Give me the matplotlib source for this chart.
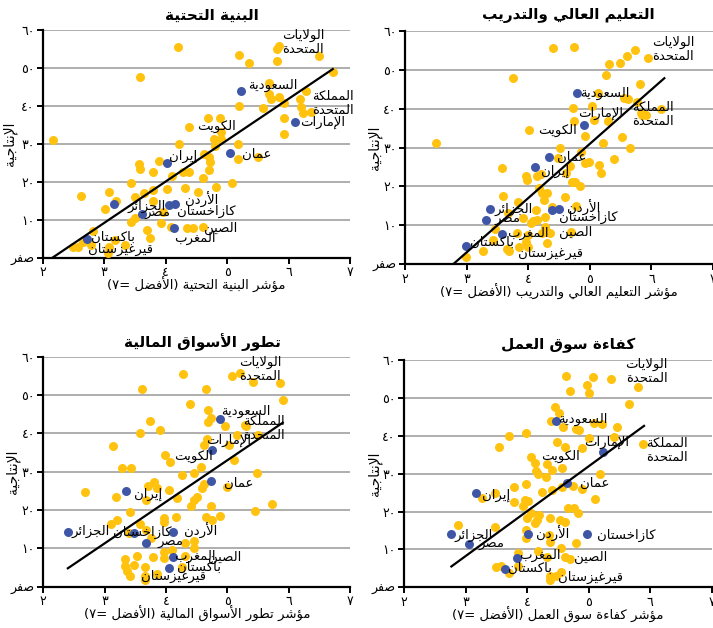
import numpy as np
import matplotlib
matplotlib.use('Agg')
import matplotlib.pyplot as plt

plt.rcParams['font.family'] = ['DejaVu Sans']

# --- petit "reshaper" arabe : formes contextuelles + ordre visuel ---
_BASE = {
    'ء': (0xFE80, 1), 'آ': (0xFE81, 2), 'أ': (0xFE83, 2), 'ؤ': (0xFE85, 2),
    'إ': (0xFE87, 2), 'ئ': (0xFE89, 4), 'ا': (0xFE8D, 2), 'ب': (0xFE8F, 4),
    'ة': (0xFE93, 2), 'ت': (0xFE95, 4), 'ث': (0xFE99, 4), 'ج': (0xFE9D, 4),
    'ح': (0xFEA1, 4), 'خ': (0xFEA5, 4), 'د': (0xFEA9, 2), 'ذ': (0xFEAB, 2),
    'ر': (0xFEAD, 2), 'ز': (0xFEAF, 2), 'س': (0xFEB1, 4), 'ش': (0xFEB5, 4),
    'ص': (0xFEB9, 4), 'ض': (0xFEBD, 4), 'ط': (0xFEC1, 4), 'ظ': (0xFEC5, 4),
    'ع': (0xFEC9, 4), 'غ': (0xFECD, 4), 'ف': (0xFED1, 4), 'ق': (0xFED5, 4),
    'ك': (0xFED9, 4), 'ل': (0xFEDD, 4), 'م': (0xFEE1, 4), 'ن': (0xFEE5, 4),
    'ه': (0xFEE9, 4), 'و': (0xFEED, 2), 'ى': (0xFEEF, 2), 'ي': (0xFEF1, 4),
}
_LAM_ALEF = {'آ': 0xFEF5, 'أ': 0xFEF7, 'إ': 0xFEF9, 'ا': 0xFEFB}
_DIGITS = '0123456789٠١٢٣٤٥٦٧٨٩'


def _shape(line):
    units = []
    i = 0
    while i < len(line):
        c = line[i]
        if c == 'ل' and i + 1 < len(line) and line[i + 1] in _LAM_ALEF:
            units.append(('LA', _LAM_ALEF[line[i + 1]], 2))
            i += 2
            continue
        if c in _BASE:
            units.append(('AR', _BASE[c][0], _BASE[c][1]))
        else:
            units.append(('X', c, 0))
        i += 1
    out = []
    for k, (kind, code, n) in enumerate(units):
        if kind == 'X':
            out.append(code)
            continue
        prev = units[k - 1] if k > 0 else None
        nxt = units[k + 1] if k + 1 < len(units) else None
        jp = prev is not None and prev[0] == 'AR' and prev[2] == 4 and n >= 2
        jn = n == 4 and nxt is not None and nxt[0] in ('AR', 'LA') and nxt[2] >= 2
        if jp and jn:
            f = 3
        elif jp:
            f = 1
        elif jn:
            f = 2
        else:
            f = 0
        out.append(chr(code + f))
    return ''.join(out)


def _visual(s):
    toks = []
    for c in s:
        if c in _DIGITS and toks and toks[-1][0] in _DIGITS:
            toks[-1] += c
        else:
            toks.append(c)
    toks = toks[::-1]
    swap = {'(': ')', ')': '('}
    return ''.join(swap.get(t, t) for t in toks)


def ar(s):
    return '\n'.join(_visual(_shape(l)) for l in s.split('\n'))


def ar_num(n):
    return ''.join('٠١٢٣٤٥٦٧٨٩'[int(d)] for d in str(n))


# --- données ---
titres = ['البنية التحتية', 'التعليم العالي والتدريب',
          'تطور الأسواق المالية', 'كفاءة سوق العمل']
xlabels = ['مؤشر البنية التحتية (الأفضل =٧)',
           'مؤشر التعليم العالي والتدريب (الأفضل =٧)',
           'مؤشر تطور الأسواق المالية (الأفضل =٧)',
           'مؤشر كفاءة سوق العمل (الأفضل =٧)']
ylabel = 'الإنتاجية'

# pays mis en évidence (points bleus) : même productivité dans les 4 panneaux
pays_hl = ['السعودية', 'الإمارات', 'عمان', 'إيران', 'كازاخستان',
           'الأردن', 'الجزائر', 'مصر', 'المغرب', 'باكستان']
prod_hl = [43.9, 35.8, 27.6, 24.9, 14.0, 14.2, 14.2, 11.4, 7.8, 4.8]
x_hl_infra = [5.23, 6.11, 5.04, 4.03, 4.05, 4.16, 3.16, 3.61, 4.14, 2.72]
x_hl_educ = [4.80, 4.90, 4.34, 4.11, 4.38, 4.50, 3.38, 3.32, 3.58, 2.99]
x_hl_fin = [4.88, 4.74, 4.73, 3.35, 3.48, 4.11, 2.40, 3.67, 4.12, 4.04]
x_hl_trav = [4.47, 5.23, 4.65, 3.17, 4.97, 4.01, 2.77, 3.05, 3.83, 3.64]

# autres pays (points jaunes)
x_infra = [2.16, 2.63, 2.50, 2.58, 2.65, 2.82, 2.78, 3.01, 3.08, 3.20, 3.08, 3.18,
           3.34, 3.43, 3.50, 3.56, 3.58, 3.58, 3.43, 3.50, 3.64, 3.70, 3.75, 3.79,
           3.79, 3.80, 3.89, 3.93, 3.95, 4.03, 4.08, 4.11, 4.20, 4.22, 4.28, 4.32,
           4.34, 4.38, 4.38, 4.45, 4.52, 4.60, 4.61, 4.63, 4.69, 4.71, 4.71, 4.73,
           4.79, 4.82, 4.88, 4.90, 4.90, 4.81, 5.08, 5.18, 5.18, 5.19, 5.19, 5.35,
           5.50, 5.58, 5.68, 5.69, 5.71, 5.81, 5.81, 5.85, 5.84, 5.93, 5.92, 5.93,
           6.28, 6.18, 6.21, 6.23, 6.36, 6.50, 6.72, 3.06]
y_infra = [31.0, 16.3, 2.9, 2.7, 4.0, 7.0, 3.3, 12.7, 17.4, 14.8, 2.7, 4.7,
           3.3, 19.6, 16.1, 24.6, 23.4, 47.7, 9.5, 10.4, 17.0, 7.3, 5.3, 22.7,
           17.8, 14.8, 25.6, 9.2, 12.0, 18.2, 8.2, 21.4, 55.4, 29.9, 22.7, 18.3,
           7.7, 34.4, 22.5, 7.9, 17.4, 8.2, 20.9, 27.3, 36.7, 26.5, 23.1, 25.1,
           31.3, 18.5, 36.9, 31.2, 33.0, 29.3, 19.8, 29.9, 25.9, 40.0, 53.4, 51.4,
           26.5, 39.5, 46.1, 43.1, 41.7, 51.8, 55.0, 55.9, 42.4, 40.7, 36.9, 32.6,
           44.0, 41.7, 39.6, 38.0, 38.4, 53.2, 48.8, 1.3]

x_educ = [2.50, 2.99, 3.26, 3.46, 3.43, 3.57, 3.59, 3.65, 3.69, 3.68, 3.75, 3.84,
          3.82, 3.85, 3.92, 3.96, 3.97, 3.98, 4.00, 4.00, 4.01, 4.04, 4.08, 4.12,
          4.14, 4.15, 4.21, 4.18, 4.22, 4.23, 4.26, 4.27, 4.28, 4.30, 4.31, 4.31,
          4.35, 4.38, 4.40, 4.48, 4.51, 4.59, 4.61, 4.68, 4.70, 4.71, 4.73, 4.74,
          4.74, 4.76, 4.78, 4.84, 4.86, 4.92, 4.92, 4.99, 5.03, 5.07, 5.14, 5.15,
          5.18, 5.21, 5.27, 5.29, 5.31, 5.39, 5.49, 5.53, 5.56, 5.61, 5.62, 5.66,
          5.73, 5.77, 5.81, 5.83, 5.85, 5.94, 6.15, 5.92]
y_educ = [31.1, 1.8, 3.3, 9.2, 6.3, 24.7, 17.6, 3.9, 3.3, 13.1, 47.8, 16.1,
          8.0, 4.5, 11.8, 5.8, 22.8, 21.7, 7.5, 4.4, 34.5, 10.5, 11.0, 14.0,
          11.4, 22.7, 23.2, 19.5, 8.0, 18.2, 16.5, 9.7, 12.2, 18.2, 5.6, 8.4,
          8.1, 14.8, 55.5, 27.4, 30.0, 17.4, 23.5, 25.3, 8.4, 21.2, 40.1, 36.8,
          55.9, 21.2, 15.0, 20.2, 28.9, 25.9, 33.0, 26.4, 40.7, 37.1, 44.1, 25.5,
          23.4, 31.1, 48.6, 36.9, 51.4, 27.0, 51.8, 32.8, 42.6, 53.5, 42.4, 30.0,
          55.1, 41.8, 46.2, 38.8, 38.4, 53.1, 39.8, 38.4]

x_fin = [2.68, 3.13, 3.18, 3.11, 3.20, 3.29, 3.43, 3.41, 3.33, 3.33, 3.36, 3.42,
         3.39, 3.48, 3.52, 3.58, 3.58, 3.60, 3.65, 3.67, 3.65, 3.66, 3.67, 3.71,
         3.74, 3.75, 3.79, 3.80, 3.85, 3.85, 3.90, 3.96, 3.96, 3.96, 3.97, 3.99,
         4.04, 4.07, 4.10, 4.16, 4.17, 4.26, 4.27, 4.30, 4.31, 4.26, 4.39, 4.40,
         4.45, 4.45, 4.46, 4.46, 4.50, 4.57, 4.59, 4.62, 4.62, 4.65, 4.65, 4.66,
         4.68, 4.69, 4.73, 4.73, 4.74, 4.87, 4.96, 4.99, 5.03, 5.07, 5.10, 5.16,
         5.21, 5.28, 5.30, 5.42, 5.45, 5.48, 5.49, 5.72, 5.86, 5.90]
y_fin = [24.6, 36.8, 23.5, 16.3, 17.4, 31.0, 31.0, 19.5, 7.1, 5.5, 4.2, 2.8,
         13.9, 5.7, 8.1, 40.0, 16.3, 51.5, 5.2, 14.8, 2.8, 1.7, 22.6, 26.3,
         43.3, 12.6, 7.7, 27.4, 25.7, 3.3, 40.9, 17.8, 16.8, 9.1, 7.4, 34.5,
         25.2, 32.6, 9.6, 18.3, 23.2, 29.1, 55.5, 11.3, 8.0, 5.2, 47.8, 21.1,
         29.7, 22.6, 12.0, 10.2, 23.3, 31.3, 25.7, 26.8, 36.9, 51.7, 18.3, 38.5,
         46.1, 43.0, 21.0, 44.1, 17.4, 18.5, 41.9, 26.1, 37.0, 55.0, 33.0, 39.6,
         55.8, 42.3, 41.9, 53.5, 19.8, 29.7, 39.6, 21.5, 53.2, 48.7]

x_trav = [2.87, 3.27, 3.48, 3.48, 3.50, 3.57, 3.55, 3.71, 3.71, 3.79, 3.79, 3.86,
          3.86, 3.93, 3.96, 3.98, 3.99, 3.99, 3.99, 4.02, 4.06, 4.07, 4.00, 4.13,
          4.13, 4.15, 4.17, 4.18, 4.16, 4.19, 4.25, 4.31, 4.33, 4.33, 4.35, 4.37,
          4.37, 4.37, 4.37, 4.39, 4.40, 4.41, 4.45, 4.47, 4.49, 4.52, 4.53, 4.55,
          4.55, 4.56, 4.59, 4.61, 4.62, 4.64, 4.61, 4.56, 4.67, 4.69, 4.69, 4.75,
          4.77, 4.79, 4.80, 4.82, 4.84, 4.89, 4.89, 4.98, 5.00, 5.00, 5.07, 5.08,
          5.10, 5.19, 5.21, 5.36, 5.42, 5.46, 5.65, 5.80, 5.89]
y_trav = [16.4, 23.5, 24.8, 16.0, 5.3, 5.5, 36.9, 39.9, 3.7, 26.4, 22.6, 9.1,
          5.5, 21.5, 23.0, 40.6, 27.3, 15.0, 12.9, 22.8, 34.5, 19.5, 18.2, 32.9,
          16.9, 30.8, 9.6, 29.9, 17.8, 19.1, 25.2, 29.2, 32.5, 7.9, 13.8, 12.0,
          18.2, 3.0, 1.9, 44.0, 25.7, 31.0, 47.7, 3.0, 38.4, 45.9, 17.8, 10.3,
          4.1, 26.6, 42.2, 36.9, 17.3, 55.8, 7.9, 31.4, 20.8, 51.7, 7.4, 26.7,
          20.8, 41.9, 11.8, 19.7, 41.5, 36.7, 25.9, 53.4, 51.4, 39.5, 55.4, 43.3,
          23.2, 29.8, 43.1, 55.0, 39.6, 42.4, 48.5, 52.9, 37.8]

# droites de tendance (extrémités)
tend_x = [[2.16, 6.72], [2.78, 6.21], [2.40, 5.90], [2.77, 5.90]]
tend_y = [[0.0, 49.7], [0.0, 47.8], [4.8, 42.8], [5.5, 42.6]]

# étiquettes des pays : (nom, x, y) au centre du texte
etiquettes = [
    [('الولايات\nالمتحدة', 6.24, 56.8), ('السعودية', 5.75, 45.3),
     ('المملكة\nالمتحدة', 6.73, 40.7), ('الإمارات', 6.55, 35.7),
     ('الكويت', 4.83, 34.5), ('عمان', 5.49, 27.2), ('إيران', 4.28, 26.6),
     ('الأردن', 4.59, 15.2), ('الجزائر', 3.69, 13.4), ('كازاخستان', 4.67, 12.3),
     ('مصر', 3.87, 11.7), ('الصين', 4.90, 7.7), ('المغرب', 4.48, 5.1),
     ('باكستان', 3.15, 5.4), ('قيرغيزستان', 3.27, 2.2)],
    [('الولايات\nالمتحدة', 6.35, 55.2), ('السعودية', 5.24, 43.8),
     ('المملكة\nالمتحدة', 6.02, 38.5), ('الإمارات', 5.18, 38.8),
     ('الكويت', 4.47, 34.5), ('عمان', 4.71, 27.4), ('إيران', 4.44, 24.0),
     ('الأردن', 4.90, 14.6), ('الجزائر', 3.76, 14.0), ('كازاخستان', 4.98, 12.0),
     ('مصر', 3.66, 11.6), ('الصين', 4.77, 8.1), ('المغرب', 4.00, 8.0),
     ('باكستان', 3.42, 5.7), ('قيرغيزستان', 4.36, 2.8)],
    [('الولايات\nالمتحدة', 5.53, 56.8), ('السعودية', 5.30, 45.7),
     ('المملكة\nالمتحدة', 5.60, 41.2), ('الإمارات', 5.02, 38.1),
     ('الكويت', 4.45, 34.1), ('عمان', 5.18, 27.1), ('إيران', 3.71, 24.2),
     ('الأردن', 4.56, 14.6), ('الجزائر', 2.77, 14.3), ('كازاخستان', 3.61, 14.2),
     ('مصر', 4.07, 11.5), ('الصين', 4.96, 7.7), ('المغرب', 4.47, 8.0),
     ('باكستان', 4.53, 5.0), ('قيرغيزستان', 4.12, 2.6)],
    [('الولايات\nالمتحدة', 5.94, 57.0), ('السعودية', 4.90, 44.3),
     ('المملكة\nالمتحدة', 6.28, 36.1), ('الإمارات', 5.30, 38.2),
     ('الكويت', 4.54, 34.5), ('عمان', 5.10, 27.4), ('إيران', 3.49, 24.4),
     ('الأردن', 4.42, 14.2), ('الجزائر', 3.13, 13.8), ('كازاخستان', 5.62, 13.8),
     ('مصر', 3.42, 11.3), ('الصين', 5.04, 7.9), ('المغرب', 4.21, 8.3),
     ('باكستان', 4.04, 5.0), ('قيرغيزستان', 5.03, 2.6)],
]

xs = [x_infra, x_educ, x_fin, x_trav]
ys = [y_infra, y_educ, y_fin, y_trav]
xs_hl = [x_hl_infra, x_hl_educ, x_hl_fin, x_hl_trav]

JAUNE = '#FFC20E'
BLEU = '#3F56A6'

fig = plt.figure(figsize=(7.13, 6.28), dpi=100)
rects = [[0.0599, 0.5897, 0.431, 0.3626],
         [0.568, 0.5791, 0.432, 0.372],
         [0.0607, 0.0658, 0.4306, 0.366],
         [0.5666, 0.0648, 0.4316, 0.362]]
pos_titre = [0.551, 0.529, 0.517, 0.533]
pos_ylabel = [-0.084, -0.075, -0.076, -0.072]

for p in range(4):
    ax = fig.add_axes(rects[p])
    ax.scatter(xs[p], ys[p], s=42, color=JAUNE, linewidths=0, zorder=3)
    ax.scatter(xs_hl[p], prod_hl, s=42, color=BLEU, linewidths=0, zorder=4)
    ax.plot(tend_x[p], tend_y[p], color='black', lw=1.6, zorder=5)
    for nom, lx, ly in etiquettes[p]:
        ax.text(lx, ly, ar(nom), fontsize=9.5, ha='center', va='center',
                multialignment='center', linespacing=1.1, zorder=6)

    ax.set_xlim(2, 7)
    ax.set_ylim(0, 60)
    ax.set_xticks(range(2, 8))
    ax.set_xticklabels([ar_num(v) for v in range(2, 8)], fontsize=9)
    ax.set_yticks(range(0, 61, 10))
    ax.set_yticklabels([ar('صفر')] + [ar_num(v) for v in range(10, 61, 10)], fontsize=9)
    ax.yaxis.grid(True, color='#A8A8A8', lw=1.3)
    ax.set_axisbelow(True)
    for s in ['top', 'right']:
        ax.spines[s].set_visible(False)
    for s in ['left', 'bottom']:
        ax.spines[s].set_linewidth(1.6)
    ax.tick_params(direction='out', length=4, width=1.4, pad=2)

    ax.text(pos_titre[p], 1.065, ar(titres[p]), transform=ax.transAxes,
            ha='center', va='center', fontsize=11, fontweight='bold')
    ax.set_xlabel(ar(xlabels[p]), fontsize=9.5)
    ax.xaxis.set_label_coords(0.5, -0.085)
    ax.set_ylabel(ar(ylabel), fontsize=10)
    ax.yaxis.set_label_coords(pos_ylabel[p], 0.5)

fig.savefig('out.png', dpi=100)
